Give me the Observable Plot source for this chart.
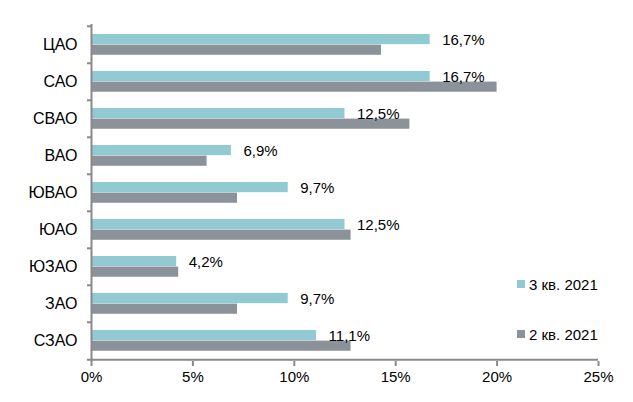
<!DOCTYPE html>
<html>
<head>
<meta charset="utf-8">
<script src="https://cdn.jsdelivr.net/npm/d3@7"></script>
<script src="https://cdn.jsdelivr.net/npm/@observablehq/plot@0.6"></script>
<style>
  html, body { margin: 0; padding: 0; background: #fff; }
  #wrap { position: relative; width: 633px; height: 402px; font-family: "Liberation Sans", Arial, sans-serif; }
  .legend { position: absolute; left: 517px; font-size: 15px; color: #000; display: flex; align-items: center; white-space: nowrap; }
  .legend span.sw { display: inline-block; width: 8px; height: 8px; margin-right: 4px; }
</style>
</head>
<body>
<div id="wrap"></div>
<script>
const districts = ["ЦАО", "САО", "СВАО", "ВАО", "ЮВАО", "ЮАО", "ЮЗАО", "ЗАО", "СЗАО"];
const q3 = [16.7, 16.7, 12.5, 6.9, 9.7, 12.5, 4.2, 9.7, 11.1];
const q2 = [14.3, 20.0, 15.7, 5.7, 7.2, 12.8, 4.3, 7.2, 12.8];
const xTicks = [0, 5, 10, 15, 20, 25];
const seriesNames = ["3 кв. 2021", "2 кв. 2021"];
const colors = ["#92CAD3", "#8B9299"];

const rows = districts.map((d, i) => ({district: d, q3: q3[i], q2: q2[i]}));
const fmt = v => v.toFixed(1).replace(".", ",") + "%";

const W = 633, H = 402, mt = 24, mb = 41;
const step = (H - mt - mb) / districts.length;
const barH = 10.6;
const topGap = 8;
const axisColor = "#898989";

const chart = Plot.plot({
  width: W,
  height: H,
  marginLeft: 91,
  marginRight: 35,
  marginTop: mt,
  marginBottom: mb,
  style: {fontFamily: "'Liberation Sans', Arial, sans-serif", fontSize: "15px", color: "#000", background: "#fff"},
  x: {domain: [0, 25]},
  y: {domain: districts, padding: 0},
  marks: [
    Plot.barX(rows, {y: "district", x: "q3", fill: colors[0], insetTop: topGap, insetBottom: step - topGap - barH}),
    Plot.barX(rows, {y: "district", x: "q2", fill: colors[1], insetTop: topGap + barH, insetBottom: step - topGap - 2 * barH}),
    Plot.text(rows, {y: "district", x: "q3", text: d => fmt(d.q3), dx: 12, dy: -5, textAnchor: "start", fill: "#000", fontSize: 15}),
    // y axis labels
    Plot.axisY({tickSize: 0, tickPadding: 14, fontSize: 16, fill: "#000", label: null}),
    // y axis boundary ticks
    Plot.axisY({tickSize: 4, tickFormat: () => "", dy: -step / 2, stroke: axisColor, strokeWidth: 2, label: null}),
    Plot.ruleX([0], {stroke: axisColor, strokeWidth: 2}),
    // bottom axis line
    Plot.ruleY([districts[districts.length - 1]], {dy: step / 2, x1: -0.2, x2: 25, stroke: axisColor, strokeWidth: 2}),
    Plot.axisX({ticks: xTicks, tickSize: 5, tickPadding: 5, tickFormat: d => d + "%", stroke: axisColor, strokeWidth: 2, fill: "#000", fontSize: 15, label: null})
  ]
});

const wrap = document.getElementById("wrap");
wrap.appendChild(chart);

const legendTops = [284, 334];
seriesNames.forEach((name, i) => {
  const item = document.createElement("div");
  item.className = "legend";
  item.style.top = (legendTops[i] - 9) + "px";
  item.style.height = "18px";
  const sw = document.createElement("span");
  sw.className = "sw";
  sw.style.background = colors[i];
  item.appendChild(sw);
  item.appendChild(document.createTextNode(name));
  wrap.appendChild(item);
});
</script>
</body>
</html>
